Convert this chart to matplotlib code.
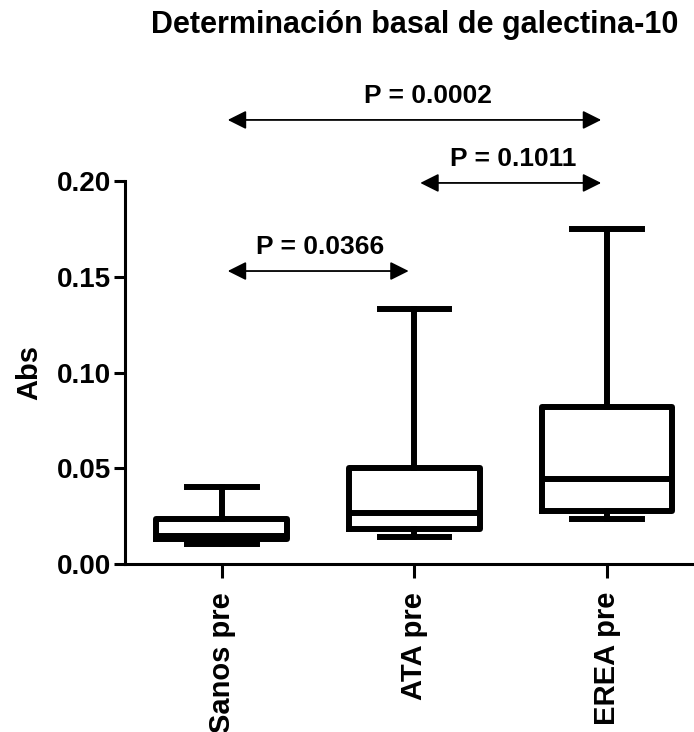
import matplotlib
matplotlib.use("Agg")
import matplotlib.pyplot as plt

# data
groups = ["Sanos pre", "ATA pre", "EREA pre"]
whislo = [0.0104, 0.0141, 0.0235]
q1 = [0.0130, 0.0183, 0.0277]
med = [0.0146, 0.0266, 0.0444]
q3 = [0.0235, 0.0500, 0.0820]
whishi = [0.0402, 0.1330, 0.1750]

# comparisons: (from group, to group, p-value label, bracket height)
comp_from = [0, 1, 0]
comp_to = [2, 2, 1]
comp_text = ["P = 0.0002", "P = 0.1011", "P = 0.0366"]
comp_y = [0.2319, 0.1990, 0.1530]
label_dx = [0.07, 0.015, 0.01]

plt.rcParams['font.family'] = ['Liberation Sans', 'DejaVu Sans']

fig = plt.figure(figsize=(6.94, 7.32), dpi=100)
ax = fig.add_axes([0.180, 0.2295, 0.820, 0.5232])

stats = []
for i in range(len(groups)):
    stats.append(dict(label=groups[i], whislo=whislo[i], q1=q1[i], med=med[i],
                      q3=q3[i], whishi=whishi[i], fliers=[]))

lw = 4.3
ax.bxp(stats, positions=range(len(groups)), widths=0.68, capwidths=0.36,
       showfliers=False,
       boxprops=dict(color='black', linewidth=lw),
       medianprops=dict(color='black', linewidth=lw),
       whiskerprops=dict(color='black', linewidth=lw),
       capprops=dict(color='black', linewidth=lw))

ax.set_xlim(-0.504, 2.452)
ax.set_ylim(0, 0.20)
ax.set_yticks([0.0, 0.05, 0.10, 0.15, 0.20])
ax.set_yticklabels(["0.00", "0.05", "0.10", "0.15", "0.20"],
                   fontsize=20, fontweight='bold')
ax.set_xticks(range(len(groups)))
ax.set_xticklabels(groups, rotation=90, fontsize=21, fontweight='bold')
ax.set_ylabel("Abs", fontsize=21, fontweight='bold')
ax.yaxis.set_label_coords(-0.143, 0.5)

ax.spines['top'].set_visible(False)
ax.spines['right'].set_visible(False)
ax.spines['left'].set_linewidth(2.2)
ax.spines['bottom'].set_linewidth(2.2)
ax.tick_params(axis='y', length=8, width=2.2, pad=2)
ax.tick_params(axis='x', length=10, width=2.2, pad=10)

for a, b, t, y, dx in zip(comp_from, comp_to, comp_text, comp_y, label_dx):
    x0 = a + 0.03
    x1 = b - 0.03
    ax.annotate('', xy=(x1, y), xytext=(x0, y), annotation_clip=False,
                arrowprops=dict(arrowstyle='<|-|>', color='black', lw=1.3,
                                mutation_scale=28, shrinkA=0, shrinkB=0))
    ax.text((x0 + x1) / 2 + dx, y + 0.009, t, ha='center', va='baseline',
            fontsize=19, fontweight='bold', clip_on=False)

fig.text(0.597, 0.955, "Determinación basal de galectina-10", ha='center',
         va='baseline', fontsize=22, fontweight='bold')

fig.savefig("out.png", dpi=100)
